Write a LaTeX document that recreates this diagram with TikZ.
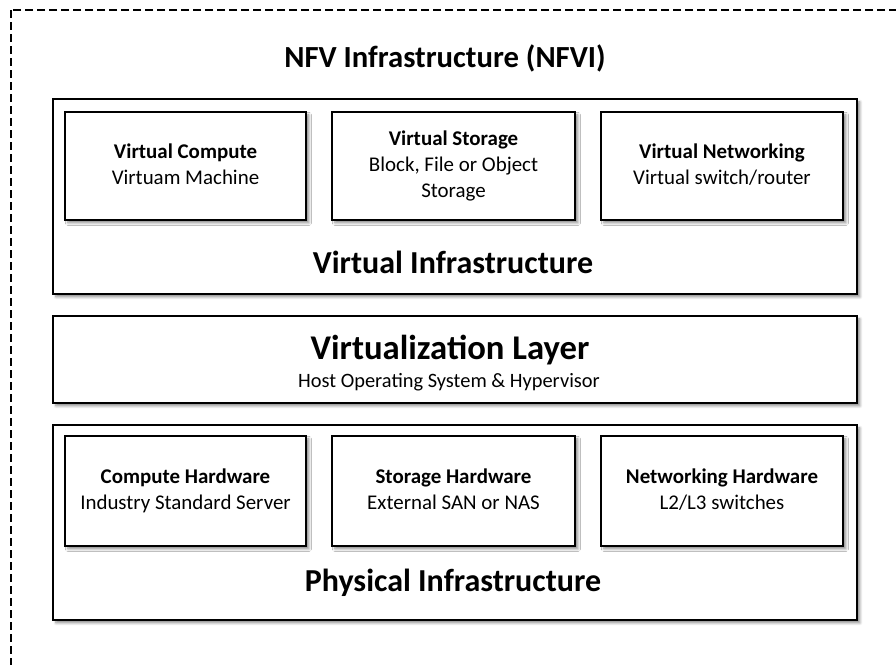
\documentclass[tikz,border=0pt]{standalone}
\usepackage{fontspec}
\setmainfont{Carlito}
\usetikzlibrary{shadows.blur}

\tikzset{
  layerbox/.style={draw=black, line width=1.5pt, fill=white, rectangle, inner sep=0pt,
    blur shadow={shadow xshift=2.2pt, shadow yshift=-2.2pt, shadow blur steps=6, shadow opacity=45}},
  unitbox/.style={draw=black, line width=1.2pt, fill=white, rectangle, inner sep=0pt,
    align=center, font=\fontsize{15.7}{19.5}\selectfont,
    blur shadow={shadow xshift=2.2pt, shadow yshift=-2.2pt, shadow blur steps=6, shadow opacity=45}},
  titletext/.style={font=\fontsize{23}{27}\selectfont\bfseries, inner sep=0pt},
  layertext/.style={font=\fontsize{24}{28}\selectfont\bfseries, inner sep=0pt},
  bigtext/.style={font=\fontsize{26}{30}\selectfont\bfseries, inner sep=0pt},
  subtext/.style={font=\fontsize{15.3}{18}\selectfont, inner sep=0pt},
}

\begin{document}
\begin{tikzpicture}[x=0.75pt, y=-0.75pt]
  \useasboundingbox (0,0) rectangle (896,664);
  \begin{scope}
    \clip (0,0) rectangle (896,664);
    % dashed NFVI frame, extending past the right and bottom edges
    \draw[line width=1.6pt, dash pattern=on 6pt off 3pt] (11,10) rectangle (905,675);
  \end{scope}

  \node[titletext] (nfvi) at (445,58) {NFV Infrastructure (NFVI)};

  % Virtual infrastructure layer
  \node[layerbox, minimum width=603pt, minimum height=146.25pt] (vi) at (455,196.5) {};
  \node[unitbox, minimum width=180.75pt, minimum height=81pt] (vc) at (185.5,166)
    {\strut\textbf{Virtual Compute}\\Virtuam Machine\strut};
  \node[unitbox, minimum width=182.25pt, minimum height=81pt] (vs) at (453.5,166)
    {\strut\textbf{Virtual Storage}\\Block, File or Object\\Storage\strut};
  \node[unitbox, minimum width=181.5pt, minimum height=81pt] (vn) at (722,166)
    {\strut\textbf{Virtual Networking}\\Virtual switch/router\strut};
  \node[layertext] (vilabel) at (453,262) {Virtual Infrastructure};

  % Virtualization layer
  \node[layerbox, minimum width=603pt, minimum height=65.25pt] (vl) at (455,359.5) {};
  \node[bigtext] (vllabel) at (450,350) {Virtualization Layer};
  \node[subtext] (vlsub) at (449,382) {Host Operating System \& Hypervisor};

  % Physical infrastructure layer
  \node[layerbox, minimum width=603pt, minimum height=146.25pt] (pi) at (455,522.5) {};
  \node[unitbox, minimum width=180.75pt, minimum height=82.5pt] (ch) at (185.5,491)
    {\strut\textbf{Compute Hardware}\\Industry Standard Server\strut};
  \node[unitbox, minimum width=182.25pt, minimum height=82.5pt] (sh) at (453.5,491)
    {\strut\textbf{Storage Hardware}\\External SAN or NAS\strut};
  \node[unitbox, minimum width=181.5pt, minimum height=82.5pt] (nh) at (722,491)
    {\strut\textbf{Networking Hardware}\\L2/L3 switches\strut};
  \node[layertext] (pilabel) at (453,583) {Physical Infrastructure};
\end{tikzpicture}
\end{document}
